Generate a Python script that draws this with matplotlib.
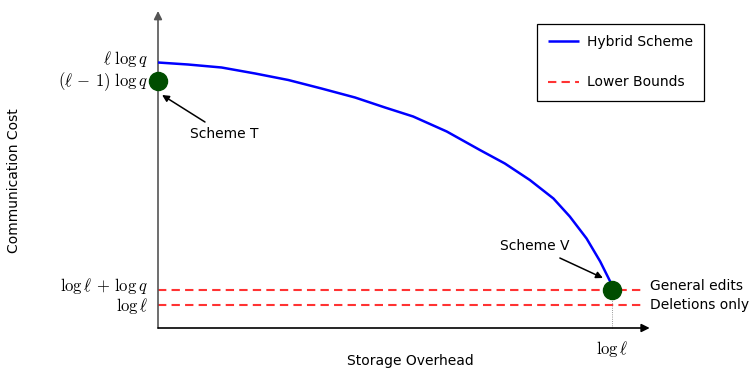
import matplotlib.pyplot as plt

plt.rcParams['mathtext.fontset'] = 'cm'
plt.rcParams['font.family'] = 'DejaVu Sans'

# hybrid scheme trade-off curve (storage overhead -> communication cost)
storage = [0.0, 0.066, 0.140, 0.214, 0.287, 0.360, 0.434, 0.500, 0.562,
           0.636, 0.709, 0.764, 0.819, 0.871, 0.907, 0.944, 0.974, 0.996, 1.0]
comm = [5.31, 5.27, 5.21, 5.09, 4.96, 4.79, 4.61, 4.41, 4.23,
        3.93, 3.56, 3.29, 2.96, 2.59, 2.23, 1.79, 1.33, 0.93, 0.76]

# lower bounds
bound_vals = [0.76, 0.46]
bound_names = ['General edits', 'Deletions only']
bound_text_dy = [0.07, 0.0]

# the two endpoint schemes
scheme_x = [0.0, 1.0]
scheme_y = [4.94, 0.76]

ytick_vals = [5.32, 4.94, 0.76, 0.46]
ytick_labels = [r'$\ell\ \log q$', r'$(\ell\,-\,1)\ \log q$',
                r'$\log \ell\,+\,\log q$', r'$\log \ell$']
ytick_dy = [0.06, -0.02, 0.08, -0.02]

fig = plt.figure(figsize=(7.52, 3.68), dpi=100)
ax = fig.add_axes([0, 0, 1, 1])
ax.set_xlim(-158 / 454, (752 - 158) / 454)
ax.set_ylim(-(368 - 328) / 50, 328 / 50)
ax.axis('off')

# axes with arrow heads
ax.annotate('', xy=(0, 6.34), xytext=(0, 0),
            arrowprops=dict(arrowstyle='-|>', color='#555555', lw=1.2,
                            mutation_scale=12, shrinkA=0, shrinkB=0))
ax.annotate('', xy=(1.083, 0), xytext=(0, 0),
            arrowprops=dict(arrowstyle='-|>', color='black', lw=1.2,
                            mutation_scale=12, shrinkA=0, shrinkB=0))

for v, name, dy in zip(bound_vals, bound_names, bound_text_dy):
    ax.plot([0, 1.068], [v, v], color='#ff3333', lw=1.5, ls=(0, (4, 2.5)),
            label='Lower Bounds' if v == bound_vals[0] else None)
    ax.text(1.083, v + dy, name, fontsize=10, va='center', ha='left')

ax.plot(storage, comm, color='blue', lw=1.8, label='Hybrid Scheme',
        solid_capstyle='butt', solid_joinstyle='round', zorder=3)

ax.plot([1, 1], [0, scheme_y[1]], color='#777777', lw=0.6, ls=':')
ax.plot(scheme_x, scheme_y, 'o', color='#004d00', ms=13, zorder=4)

for v, lab, dy in zip(ytick_vals, ytick_labels, ytick_dy):
    ax.text(-0.022, v + dy, lab, fontsize=12, ha='right', va='center')
ax.text(1.0, -0.22, r'$\log \ell$', fontsize=12, ha='center', va='top')

ax.annotate('Scheme T', xy=(0.009, 4.66), xytext=(0.07, 3.88),
            fontsize=10, va='center', ha='left',
            arrowprops=dict(arrowstyle='-|>', color='black', lw=1.1,
                            mutation_scale=10, shrinkA=3, shrinkB=0))
ax.annotate('Scheme V', xy=(0.98, 1.0), xytext=(0.907, 1.63),
            fontsize=10, va='center', ha='right',
            arrowprops=dict(arrowstyle='-|>', color='black', lw=1.1,
                            mutation_scale=10, shrinkA=3, shrinkB=0))

ax.text(0.555, -0.52, 'Storage Overhead', fontsize=10, ha='center', va='top')
ax.text(-0.318, 2.94, 'Communication Cost', fontsize=10, rotation=90,
        ha='center', va='center')

handles, labels = ax.get_legend_handles_labels()
leg = ax.legend(handles[::-1], labels[::-1], loc='upper right',
                bbox_to_anchor=(704 / 752, 1 - 24 / 368),
                bbox_transform=fig.transFigure, fontsize=10,
                fancybox=False, edgecolor='black', framealpha=1,
                handlelength=2.2, labelspacing=1.9, borderpad=0.8,
                handletextpad=0.6, borderaxespad=0)
leg.get_frame().set_linewidth(0.9)

fig.savefig('out.png', dpi=100)
